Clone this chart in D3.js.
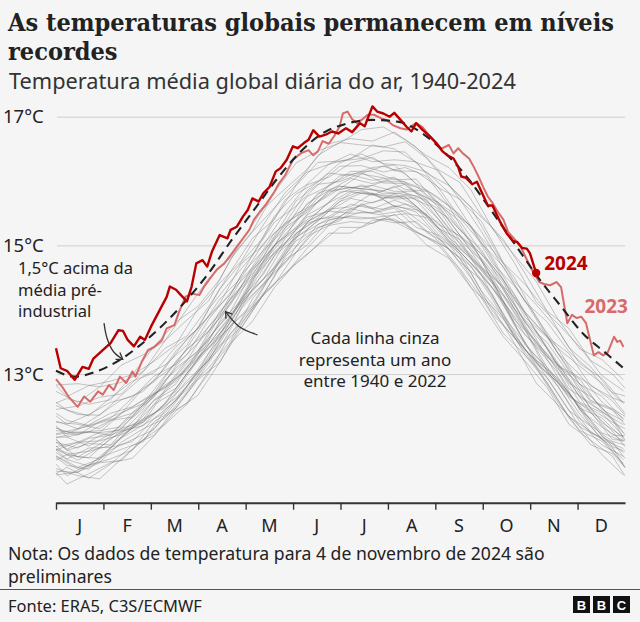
<!DOCTYPE html>
<html><head><meta charset="utf-8">
<script src="https://cdn.jsdelivr.net/npm/d3@7"></script>
<style>
html,body{margin:0;padding:0;background:#f5f5f5;}
svg{display:block;}
text{font-family:"Noto Sans",sans-serif;}
</style></head><body>
<svg id="chart" width="640" height="622"></svg>
<script>
// ---------- DATA ----------
const monthLabels = ['J','F','M','A','M','J','J','A','S','O','N','D'];
const yTicks = [13, 15, 17];

// grey lines: years 1940-2022 (representative subset), sampled every 14 days on two staggered grids
const greyDaysA = [1,15,29,43,57,71,85,99,113,127,141,155,169,183,197,211,225,239,253,267,281,295,309,323,337,351,365];
const greyA01 = [12.83,12.85,12.80,13.14,13.30,13.52,14.01,14.49,14.81,15.22,15.82,16.28,16.47,16.59,16.80,16.84,16.64,16.39,16.21,15.87,15.26,14.85,14.44,13.85,13.39,13.23,12.91];
const greyA02 = [12.73,12.56,12.80,12.87,13.04,13.52,13.84,14.14,14.79,15.21,15.58,15.94,16.40,16.60,16.56,16.53,16.61,16.35,15.94,15.60,15.27,14.73,14.12,13.78,13.42,12.98,12.74];
const greyA03 = [12.45,12.50,12.64,12.69,13.04,13.40,13.59,14.05,14.59,15.11,15.40,15.93,16.29,16.31,16.35,16.47,16.45,16.12,15.93,15.59,15.00,14.44,14.08,13.68,13.16,12.94,12.55];
const greyA04 = [12.51,12.37,12.36,12.67,12.97,13.14,13.45,14.01,14.44,14.84,15.45,15.80,15.99,16.28,16.42,16.27,16.24,16.14,15.82,15.30,14.93,14.50,13.88,13.40,13.12,12.86,12.54];
const greyA05 = [12.27,12.15,12.37,12.60,12.73,13.10,13.54,13.89,14.24,14.85,15.36,15.61,15.94,16.23,16.24,16.14,16.21,16.07,15.62,15.29,14.72,14.37,13.90,13.32,12.99,12.57,12.31];
const greyA06 = [12.25,12.22,12.15,12.39,12.78,13.02,13.30,13.85,14.27,14.63,15.14,15.69,15.95,15.99,16.12,16.23,16.12,15.78,15.55,15.31,14.77,14.15,13.76,13.40,12.84,12.66,12.29];
const greyA07 = [12.16,12.05,12.26,12.40,12.54,12.98,13.39,13.66,14.08,14.67,15.19,15.46,15.79,16.08,16.13,15.97,15.96,15.85,15.61,15.04,14.68,14.23,13.65,13.14,12.92,12.45,12.27];
const greyA08 = [12.06,12.10,12.09,12.39,12.59,12.78,13.21,13.74,14.16,14.53,15.12,15.49,15.67,15.88,16.11,16.05,15.87,15.84,15.50,15.04,14.52,14.20,13.67,13.12,12.85,12.48,12.08];
const greyA09 = [12.12,12.09,12.12,12.18,12.46,12.91,13.21,13.52,14.12,14.62,14.98,15.36,15.81,15.92,15.88,15.99,15.99,15.64,15.42,15.07,14.45,14.01,13.67,13.17,12.64,12.42,12.21];
const greyA10 = [11.94,11.85,12.04,12.15,12.53,12.83,13.05,13.56,13.97,14.60,15.00,15.28,15.68,15.92,15.88,15.85,15.95,15.70,15.27,15.00,14.59,14.02,13.48,13.15,12.70,12.25,12.02];
const greyA11 = [11.87,11.94,12.09,12.13,12.30,12.76,13.17,13.47,13.89,14.50,15.00,15.27,15.52,15.81,15.94,15.80,15.82,15.70,15.25,14.81,14.49,13.97,13.46,13.10,12.56,12.40,12.03];
const greyA12 = [11.82,11.94,11.96,12.06,12.25,12.73,13.12,13.41,13.85,14.47,14.87,15.17,15.52,15.83,15.86,15.74,15.78,15.63,15.20,14.86,14.44,13.84,13.51,12.95,12.47,12.32,11.99];
const greyA13 = [11.94,11.71,11.91,12.16,12.25,12.53,13.01,13.46,13.80,14.39,14.90,15.19,15.42,15.72,15.84,15.73,15.76,15.46,15.12,14.84,14.43,13.80,13.42,13.02,12.44,12.18,11.96];
const greyA14 = [11.83,11.66,11.86,12.11,12.20,12.55,13.01,13.40,13.74,14.32,14.84,15.12,15.38,15.68,15.81,15.78,15.75,15.47,15.08,14.81,14.40,13.76,13.22,12.93,12.48,12.09,11.95];
const greyA15 = [11.84,11.71,11.69,12.01,12.31,12.48,12.90,13.21,13.82,14.32,14.64,15.13,15.32,15.52,15.62,15.56,15.64,15.48,15.07,14.73,14.34,13.79,13.18,12.87,12.51,12.04,11.78];
const greyA16 = [11.73,11.55,11.68,12.01,12.21,12.40,12.81,13.33,13.75,14.09,14.62,15.18,15.41,15.45,15.63,15.71,15.50,15.43,15.05,14.68,14.24,13.60,13.16,12.87,12.38,11.99,11.84];
const greyA17 = [11.72,11.52,11.63,11.94,12.15,12.31,12.72,13.22,13.75,14.05,14.62,15.07,15.28,15.38,15.65,15.49,15.54,15.29,14.94,14.68,14.16,13.57,13.20,12.81,12.26,11.90,11.72];
const greyA18 = [11.49,11.47,11.70,11.83,11.95,12.44,12.76,13.10,13.52,14.17,14.59,14.89,15.33,15.44,15.41,15.45,15.49,15.20,15.01,14.58,13.98,13.56,13.19,12.70,12.18,12.00,11.67];
const greyA19 = [11.43,11.48,11.62,11.66,11.98,12.34,12.55,13.01,13.63,14.05,14.39,14.89,15.27,15.41,15.52,15.47,15.28,15.12,14.95,14.50,13.93,13.57,13.10,12.56,12.12,11.96,11.61];
const greyA20 = [11.53,11.42,11.37,11.68,11.98,12.22,12.53,13.05,13.48,13.82,14.34,14.73,15.00,15.28,15.28,15.42,15.34,15.00,14.80,14.35,14.03,13.48,12.86,12.52,12.18,11.75,11.43];

const greyDaysB = [1,8,22,36,50,64,78,92,106,120,134,148,162,176,190,204,218,232,246,260,274,288,302,316,330,344,358,366];
const greyB01 = [12.82,12.65,12.82,12.89,12.99,13.43,13.81,14.05,14.47,15.07,15.57,15.88,16.18,16.58,16.66,16.62,16.76,16.53,16.18,15.98,15.46,15.09,14.56,13.98,13.71,13.21,13.00,12.78];
const greyB02 = [12.55,12.62,12.53,12.60,12.98,13.20,13.46,14.01,14.41,14.76,15.32,15.82,16.14,16.26,16.35,16.56,16.50,16.29,16.17,15.71,15.37,14.73,14.39,13.97,13.41,13.11,12.71,12.66];
const greyB03 = [12.56,12.44,12.35,12.63,12.89,13.02,13.43,13.70,14.32,14.74,15.12,15.71,15.95,16.26,16.42,16.30,16.33,16.30,15.90,15.72,15.21,14.65,14.12,13.81,13.35,13.05,12.63,12.56];
const greyB04 = [12.35,12.22,12.37,12.56,12.65,12.88,13.36,13.71,14.09,14.72,15.00,15.51,15.94,16.06,16.28,16.37,16.16,16.15,15.91,15.43,15.03,14.67,14.13,13.58,13.32,12.82,12.63,12.39];
const greyB05 = [12.39,12.28,12.20,12.31,12.63,12.97,13.15,13.66,14.16,14.50,15.03,15.34,15.85,16.12,16.09,16.21,16.25,15.96,15.75,15.48,15.09,14.52,13.96,13.59,13.05,12.83,12.58,12.36];
const greyB06 = [12.17,12.07,12.21,12.39,12.49,12.71,13.20,13.55,13.92,14.55,14.92,15.26,15.76,15.92,16.15,16.15,16.02,16.03,15.64,15.38,14.89,14.47,13.88,13.57,13.08,12.59,12.46,12.34];
const greyB07 = [12.07,12.11,12.19,12.29,12.39,12.64,13.13,13.48,13.87,14.48,14.82,15.35,15.55,15.93,16.10,16.01,16.06,15.81,15.67,15.24,14.93,14.35,13.80,13.49,13.01,12.57,12.44,12.21];
const greyB08 = [12.20,12.02,12.10,12.28,12.33,12.66,13.10,13.35,13.97,14.37,14.75,15.13,15.65,15.85,16.04,15.96,16.04,15.92,15.60,15.16,14.86,14.42,13.79,13.40,12.86,12.65,12.31,12.06];
const greyB09 = [12.01,12.05,12.10,12.05,12.40,12.70,12.89,13.32,13.90,14.31,14.69,15.28,15.51,15.85,15.90,15.93,15.84,15.84,15.63,15.16,14.67,14.34,13.82,13.27,13.01,12.46,12.25,12.15];
const greyB10 = [12.02,12.02,11.88,12.07,12.36,12.69,12.93,13.24,13.80,14.15,14.76,15.23,15.54,15.83,15.90,15.86,15.81,15.77,15.57,15.08,14.76,14.32,13.71,13.31,12.77,12.55,12.29,11.97];
const greyB11 = [11.98,11.83,12.00,12.05,12.18,12.60,12.85,13.35,13.76,14.12,14.73,15.03,15.47,15.66,15.84,15.78,15.92,15.71,15.33,15.15,14.76,14.13,13.61,13.27,12.89,12.40,12.05,12.04];
const greyB12 = [11.99,11.81,11.92,11.90,12.26,12.59,12.78,13.24,13.59,14.18,14.55,15.11,15.37,15.54,15.82,15.81,15.72,15.74,15.42,14.96,14.62,14.21,13.69,13.10,12.65,12.44,12.11,11.87];
const greyB13 = [11.88,11.74,11.70,12.00,12.18,12.53,12.73,13.22,13.70,14.11,14.47,15.04,15.44,15.53,15.73,15.66,15.80,15.61,15.27,15.09,14.53,14.12,13.68,13.04,12.67,12.41,11.98,11.97];
const greyB14 = [11.82,11.68,11.85,11.86,12.18,12.39,12.70,13.02,13.62,14.14,14.47,14.85,15.36,15.56,15.60,15.81,15.61,15.55,15.36,14.90,14.56,14.12,13.45,13.11,12.71,12.20,11.95,11.90];
const greyB15 = [11.66,11.75,11.80,11.89,12.16,12.39,12.63,12.99,13.55,14.08,14.39,14.94,15.34,15.45,15.64,15.57,15.70,15.59,15.18,14.91,14.53,13.90,13.47,13.07,12.70,12.24,11.87,11.80];
const greyB16 = [11.78,11.67,11.57,11.86,11.95,12.31,12.59,13.04,13.39,14.02,14.41,14.72,15.24,15.53,15.50,15.51,15.62,15.52,15.14,14.74,14.46,13.94,13.37,13.06,12.55,12.09,11.94,11.69];
const greyB17 = [11.70,11.58,11.52,11.82,11.98,12.14,12.57,13.03,13.45,13.80,14.23,14.82,15.14,15.31,15.57,15.50,15.58,15.28,15.16,14.87,14.29,13.88,13.29,12.94,12.43,12.19,11.80,11.56];
const greyB18 = [11.60,11.42,11.59,11.68,11.82,12.26,12.47,12.93,13.43,13.73,14.24,14.78,15.00,15.40,15.45,15.42,15.35,15.37,15.07,14.80,14.23,13.85,13.39,12.86,12.34,12.11,11.86,11.54];
const greyB19 = [11.45,11.55,11.38,11.60,11.89,12.05,12.48,12.91,13.18,13.78,14.26,14.55,14.95,15.31,15.37,15.34,15.48,15.21,15.05,14.64,14.18,13.63,13.29,12.87,12.32,11.90,11.76,11.55];
const greyB20 = [11.47,11.29,11.45,11.62,11.69,12.04,12.43,12.67,13.18,13.72,14.23,14.57,14.85,15.19,15.19,15.39,15.41,15.22,15.01,14.62,14.09,13.58,13.20,12.79,12.22,11.97,11.72,11.42];

const greySeriesA = [greyA01,greyA02,greyA03,greyA04,greyA05,greyA06,greyA07,greyA08,greyA09,greyA10,greyA11,greyA12,greyA13,greyA14,greyA15,greyA16,greyA17,greyA18,greyA19,greyA20];
const greySeriesB = [greyB01,greyB02,greyB03,greyB04,greyB05,greyB06,greyB07,greyB08,greyB09,greyB10,greyB11,greyB12,greyB13,greyB14,greyB15,greyB16,greyB17,greyB18,greyB19,greyB20];

// 1.5°C above pre-industrial average
const dashedDays  = [1,13,27,42,54,72,84,99,113,128,143,158,172,187,204,221,236,251,266,280,295,310,325,339,354,366];
const dashedTemps = [13.05,12.96,13.04,13.22,13.43,13.82,14.13,14.57,15.06,15.55,16.04,16.46,16.74,16.89,16.95,16.92,16.74,16.43,16.02,15.55,15.03,14.51,14.05,13.63,13.32,13.07];

const days2023 = [1,5,9,13,15,19,23,28,31,35,38,42,46,50,52,56,60,64,69,72,77,80,84,88,93,96,100,104,109,114,117,121,125,128,132,136,141,144,148,153,158,163,166,169,172,176,180,183,185,188,191,194,197,201,205,210,213,217,222,226,230,232,236,240,244,248,253,256,259,262,266,269,272,275,278,281,285,288,291,295,299,303,307,311,314,318,322,325,329,332,335,338,341,346,349,352,355,359,361,363,365];
const temps2023 = [12.92,12.80,12.65,12.54,12.49,12.65,12.57,12.73,12.68,12.83,12.75,12.96,12.86,13.04,12.96,13.19,13.37,13.42,13.53,13.71,13.76,13.97,14.20,14.25,14.23,14.36,14.49,14.62,14.72,14.88,14.98,15.11,15.24,15.40,15.53,15.65,15.83,15.96,16.09,16.33,16.43,16.48,16.40,16.46,16.62,16.58,16.72,16.85,17.05,17.08,16.96,16.90,16.95,17.03,17.03,16.97,16.95,16.87,16.82,16.80,16.87,16.90,16.84,16.72,16.61,16.50,16.56,16.43,16.51,16.43,16.35,16.22,16.07,15.91,15.76,15.66,15.50,15.40,15.21,15.10,14.98,14.78,14.59,14.43,14.40,14.38,14.43,14.35,13.79,13.92,13.87,13.89,13.79,13.29,13.34,13.29,13.34,13.58,13.50,13.52,13.42];

const days2024 = [1,4,8,13,18,22,25,31,36,41,44,47,51,55,58,62,67,72,74,78,81,85,88,91,95,98,101,106,111,113,117,121,124,127,131,134,138,142,145,149,153,156,160,163,166,170,174,178,182,187,191,196,199,204,207,211,215,218,222,226,229,232,236,241,245,249,252,256,259,261,264,268,271,274,278,281,286,290,294,297,300,303,305,309];
const temps2024 = [13.40,13.09,13.05,12.91,13.11,13.08,13.24,13.37,13.48,13.68,13.67,13.53,13.43,13.58,13.53,13.74,13.97,14.20,14.36,14.31,14.23,14.13,14.36,14.72,14.77,14.67,14.90,15.16,15.11,15.24,15.29,15.45,15.55,15.73,15.68,15.81,15.91,16.15,16.20,16.33,16.54,16.51,16.59,16.64,16.79,16.69,16.72,16.77,16.74,16.82,16.76,16.90,16.85,17.16,17.08,17.05,17.00,17.06,16.95,16.84,16.77,16.90,16.80,16.69,16.59,16.46,16.40,16.35,16.22,16.07,16.05,15.95,15.99,15.83,15.62,15.62,15.36,15.19,15.07,15.05,14.96,14.95,14.88,14.57];

// annotation arrows in data space (day, °C)
const arrowPreInd = [[31.8,13.79],[33.7,13.56],[37.8,13.35],[43.8,13.23]];
const arrowGrey   = [[130.2,13.61],[118.4,13.74],[109.8,13.97]];

// ---------- CHART ----------
const W = 640, H = 622;
const INK = '#222', RED24 = '#b80000', RED23 = '#d96a6a';
const svg = d3.select('#chart');
svg.append('rect').attr('width', W).attr('height', H).style('fill', '#f5f5f5');

const x  = d3.scaleLinear().domain([1, 366]).range([56, 625]);
const xm = d3.scaleLinear().domain([0, 12]).range([56, 625]);
const xb = d3.scaleBand().domain(d3.range(12)).range([56, 625]);
const y  = d3.scaleLinear().domain([11, 17]).range([502.7, 116.7]);

function fitWidth(sel, target) {
  const n = sel.node();
  const fs = parseFloat(sel.style('font-size'));
  const w = n.getComputedTextLength();
  if (w > 0) sel.style('font-size', (fs * target / w).toFixed(2) + 'px');
}

// Titles
const t1 = svg.append('text').attr('x', 8).attr('y', 31)
  .style('font-family', '"DejaVu Serif Condensed","DejaVu Serif",serif')
  .style('font-weight', 700).style('font-size', '25px').style('fill', INK)
  .text('As temperaturas globais permanecem em níveis');
fitWidth(t1, 606);
svg.append('text').attr('x', 8).attr('y', 60)
  .style('font-family', '"DejaVu Serif Condensed","DejaVu Serif",serif')
  .style('font-weight', 700).style('font-size', t1.style('font-size')).style('fill', INK)
  .text('recordes');
const st = svg.append('text').attr('x', 9).attr('y', 89)
  .style('font-size', '19px').style('fill', '#333')
  .text('Temperatura média global diária do ar, 1940-2024');
fitWidth(st, 507);

// Gridlines + y labels
const gy = svg.append('g').attr('transform', 'translate(57,0)')
  .call(d3.axisRight(y).tickValues(yTicks).tickSize(568).tickFormat(d => d + '°C'));
gy.select('.domain').remove();
gy.selectAll('.tick line').attr('stroke', '#cfcfcf').attr('stroke-width', 1);
gy.selectAll('.tick text').attr('x', -54).attr('dy', '0.33em')
  .style('text-anchor', 'start').style('font-size', '18.5px')
  .style('font-family', '"Noto Sans",sans-serif').style('fill', INK);

// Grey lines
const line = d3.line().x(d => x(d[0])).y(d => y(d[1]));
const greyG = svg.append('g').attr('fill', 'none').attr('stroke', '#737373')
  .attr('stroke-width', 1).attr('stroke-opacity', 0.4).attr('stroke-linejoin', 'round');
greyG.selectAll('path.a').data(greySeriesA).join('path').attr('class', 'a')
  .attr('d', vals => line(d3.zip(greyDaysA, vals)));
greyG.selectAll('path.b').data(greySeriesB).join('path').attr('class', 'b')
  .attr('d', vals => line(d3.zip(greyDaysB, vals)));

// 2023
svg.append('path').attr('d', line(d3.zip(days2023, temps2023)))
  .attr('fill', 'none').attr('stroke', RED23).attr('stroke-width', 2)
  .attr('stroke-linejoin', 'round');

// dashed 1.5°C line
const smooth = d3.line().curve(d3.curveMonotoneX).x(d => x(d[0])).y(d => y(d[1]));
svg.append('path').attr('d', smooth(d3.zip(dashedDays, dashedTemps)))
  .attr('fill', 'none').attr('stroke', '#222').attr('stroke-width', 2.1)
  .attr('stroke-dasharray', '9,6');

// 2024
svg.append('path').attr('d', line(d3.zip(days2024, temps2024)))
  .attr('fill', 'none').attr('stroke', RED24).attr('stroke-width', 2.4)
  .attr('stroke-linejoin', 'round');
const lastIdx = days2024.length - 1;
svg.append('circle').attr('cx', x(days2024[lastIdx])).attr('cy', y(temps2024[lastIdx]))
  .attr('r', 4.2).style('fill', RED24);

// series labels
svg.append('text').attr('x', x(days2024[lastIdx]) + 8).attr('y', y(temps2024[lastIdx]) - 3)
  .style('font-size', '19px').style('font-weight', 700).style('fill', RED24).text('2024');
svg.append('text').attr('x', x(340)).attr('y', y(13.95))
  .style('font-size', '19px').style('font-weight', 700).style('fill', RED23).text('2023');

// X axis
const gx = svg.append('g').attr('transform', `translate(0,${y(11)})`)
  .call(d3.axisBottom(xm).tickValues(d3.range(12)).tickSize(7).tickSizeOuter(0).tickFormat(''));
gx.select('.domain').attr('stroke', '#333').attr('stroke-width', 2);
gx.selectAll('.tick line').attr('stroke', '#333').attr('stroke-width', 1.4);
const gl = svg.append('g').attr('transform', `translate(0,${y(11)})`)
  .call(d3.axisBottom(xb).tickSize(0).tickPadding(17).tickFormat(i => monthLabels[i]));
gl.select('.domain').remove();
gl.selectAll('text').style('font-size', '18px').style('font-family', '"Noto Sans",sans-serif').style('fill', INK);

// annotations
const defs = svg.append('defs');
defs.append('marker').attr('id', 'arr').attr('viewBox', '-8 -6 10 12')
  .attr('refX', 0).attr('refY', 0).attr('markerWidth', 10).attr('markerHeight', 12)
  .attr('markerUnits', 'userSpaceOnUse').attr('orient', 'auto')
  .append('path').attr('d', 'M-6,-4L0,0L-6,4').attr('fill', 'none')
  .attr('stroke', '#333').attr('stroke-width', 1.3);
const curve = d3.line().curve(d3.curveCatmullRom).x(d => x(d[0])).y(d => y(d[1]));
svg.append('path').attr('d', curve(arrowPreInd)).attr('fill', 'none')
  .attr('stroke', '#333').attr('stroke-width', 1.3).attr('marker-end', 'url(#arr)');
svg.append('path').attr('d', curve(arrowGrey)).attr('fill', 'none')
  .attr('stroke', '#333').attr('stroke-width', 1.3).attr('marker-end', 'url(#arr)');

const ann1 = ['1,5°C acima da', 'média pré-', 'industrial'];
svg.append('g').selectAll('text').data(ann1).join('text')
  .attr('x', 18).attr('y', (d, i) => 274 + i * 21.5)
  .style('font-size', '16.5px').style('fill', INK).text(d => d);
const ann2 = ['Cada linha cinza', 'representa um ano', 'entre 1940 e 2022'];
svg.append('g').selectAll('text').data(ann2).join('text')
  .attr('x', 375).attr('y', (d, i) => 344 + i * 21.5)
  .style('text-anchor', 'middle').style('font-size', '17px').style('fill', INK).text(d => d);

// footer
const n1 = svg.append('text').attr('x', 8).attr('y', 560).style('font-size', '17px').style('fill', INK)
  .text('Nota: Os dados de temperatura para 4 de novembro de 2024 são');
fitWidth(n1, 537);
svg.append('text').attr('x', 8).attr('y', 583).style('font-size', n1.style('font-size')).style('fill', INK)
  .text('preliminares');
svg.append('line').attr('x1', 0).attr('x2', W).attr('y1', 589.5).attr('y2', 589.5)
  .attr('stroke', '#555').attr('stroke-width', 1);
const src = svg.append('text').attr('x', 8).attr('y', 611.5).style('font-size', '15px').style('fill', INK)
  .text('Fonte: ERA5, C3S/ECMWF');
fitWidth(src, 194);
const logo = svg.append('g');
['B', 'B', 'C'].forEach((c, i) => {
  logo.append('rect').attr('x', 573 + i * 20).attr('y', 596).attr('width', 17).attr('height', 17).style('fill', '#111');
  logo.append('text').attr('x', 573 + i * 20 + 8.5).attr('y', 609.5).style('text-anchor', 'middle')
    .style('font-size', '13px').style('font-weight', 700).style('font-family', '"Liberation Sans",Arial,sans-serif')
    .style('fill', '#fff').text(c);
});
</script>
</body></html>
